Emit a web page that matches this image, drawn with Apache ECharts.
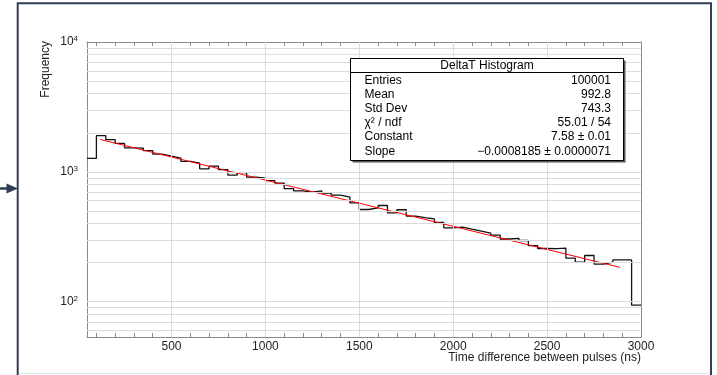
<!DOCTYPE html>
<html><head><meta charset="utf-8">
<script src="https://cdn.jsdelivr.net/npm/echarts@6/dist/echarts.min.js"></script>
<style>html,body{margin:0;padding:0;background:#fff}#c{width:717px;height:375px}</style>
</head><body><div id="c"></div>
<script>
// ---- data ----
const binStart = 50;
const binWidth = 50;
const counts = [1270,1901,1769,1656,1530,1525,1459,1370,1323,1277,
                1205,1166,1055,1108,1042,945,986,910,896,857,
                820,743,714,699,714,685,661,638,577,513,
                528,551,484,511,456,445,435,408,371,375,
                362,350,338,326,304,307,296,270,257,256,
                259,217,202,227,195,202,210,210,94];
const fitX = [121, 2887];
const fitY = [1775, 184];
const xLabelValues = [500, 1000, 1500, 2000, 2500, 3000];
const xMinorValues = [100,200,300,400,600,700,800,900,1100,1200,1300,1400,1600,1700,1800,1900,2100,2200,2300,2400,2600,2700,2800,2900];
const yLabelValues = [100, 1000, 10000];
const yMinorValues = [60,70,80,90,200,300,400,500,600,700,800,900,2000,3000,4000,5000,6000,7000,8000,9000];
const xGridValues = [500, 1000, 1500, 2000, 2500];
const yGridValues = [60,70,80,90,100,200,300,400,500,600,700,800,900,1000,2000,3000,4000,5000,6000,7000,8000,9000];
const statsTitle = 'DeltaT Histogram';
const statNames = ['Entries', 'Mean', 'Std Dev', 'χ² / ndf', 'Constant', 'Slope'];
const statValues = ['100001', '992.8', '743.3', '55.01 / 54', '7.58 ± 0.01', '−0.0008185 ± 0.0000071'];
const xTitle = 'Time difference between pulses (ns)';
const yTitle = 'Frequency';

// ---- build ----
const FONT = '"Liberation Sans", Arial, Helvetica, sans-serif';
const X_MIN = 50, X_MAX = 3000, Y_MIN = 53.5, Y_MAX = 10000;
const axisColor = '#8a8a8a';

const histData = counts.map((c, i) => [binStart + i * binWidth, c]);
histData.push([binStart + counts.length * binWidth, counts[counts.length - 1]]);
const fitData = fitX.map((x, i) => [x, fitY[i]]);

function xAx(extra) {
  return Object.assign({
    type: 'value', min: X_MIN, max: X_MAX, gridIndex: 0,
    splitLine: { show: false },
    axisLine: { show: false },
    axisTick: { show: false },
    axisLabel: { show: false }
  }, extra);
}
function yAx(extra) {
  return Object.assign({
    type: 'log', logBase: 10, min: Y_MIN, max: Y_MAX, gridIndex: 0,
    splitLine: { show: false },
    axisLine: { show: false },
    axisTick: { show: false },
    axisLabel: { show: false }
  }, extra);
}
const lineAx = { show: true, onZero: false, lineStyle: { color: axisColor, width: 1 } };

const option = {
  animation: false,
  backgroundColor: '#ffffff',
  grid: { left: 87, right: 76, top: 42, bottom: 38, containLabel: false, outerBoundsMode: 'none' },
  xAxis: [
    xAx({ position: 'bottom', axisLine: lineAx,
      axisTick: { show: true, inside: true, length: 8, customValues: xLabelValues, lineStyle: { color: axisColor } },
      axisLabel: { show: true, customValues: xLabelValues, margin: 4, fontSize: 12, color: '#222', fontFamily: FONT,
        formatter: function (v) { return String(Math.round(v)); } } }),
    xAx({ position: 'bottom',
      axisTick: { show: true, inside: true, length: 4, customValues: xMinorValues, lineStyle: { color: axisColor } } }),
    xAx({ position: 'top', axisLine: lineAx,
      axisTick: { show: true, inside: true, length: 4, customValues: xMinorValues.concat(xLabelValues), lineStyle: { color: axisColor } } })
  ],
  yAxis: [
    yAx({ position: 'left', axisLine: lineAx,
      axisTick: { show: true, inside: true, length: 17, customValues: yLabelValues, lineStyle: { color: axisColor } },
      axisLabel: { show: true, customValues: yLabelValues, margin: 9, color: '#222', fontFamily: FONT,
        showMinLabel: true, showMaxLabel: true,
        formatter: function (v) { return '{b|10}{s|' + Math.round(Math.log10(v)) + '}'; },
        rich: { b: { fontSize: 12, fontFamily: FONT, color: '#222', lineHeight: 14 },
                s: { fontSize: 8, fontFamily: FONT, color: '#222', verticalAlign: 'top', lineHeight: 8 } } } }),
    yAx({ position: 'left',
      axisTick: { show: true, inside: true, length: 9, customValues: yMinorValues, lineStyle: { color: axisColor } } }),
    yAx({ position: 'right', axisLine: lineAx,
      axisTick: { show: true, inside: true, length: 17, customValues: yLabelValues, lineStyle: { color: axisColor } } }),
    yAx({ position: 'right',
      axisTick: { show: true, inside: true, length: 9, customValues: yMinorValues, lineStyle: { color: axisColor } } })
  ],
  series: [
    { type: 'line', name: 'grid', data: [], silent: true, z: 1, xAxisIndex: 0, yAxisIndex: 0,
      markLine: { silent: true, symbol: 'none', label: { show: false }, animation: false,
        emphasis: { disabled: true },
        lineStyle: { color: '#dcdcdc', width: 1, type: 'solid' },
        data: xGridValues.map(v => ({ xAxis: v })).concat(yGridValues.map(v => ({ yAxis: v }))) } },
    { type: 'line', name: 'DeltaT', data: histData, step: 'end', showSymbol: false, symbol: 'none',
      xAxisIndex: 0, yAxisIndex: 0, z: 3,
      lineStyle: { color: '#111', width: 1.3 }, emphasis: { disabled: true } },
    { type: 'line', name: 'fit', data: fitData, showSymbol: false, symbol: 'none',
      xAxisIndex: 0, yAxisIndex: 0, z: 4,
      lineStyle: { color: '#ff0000', width: 1 }, emphasis: { disabled: true } }
  ],
  graphic: []
};

// frame and arrow
option.graphic.push(
  { type: 'rect', shape: { x: 17.7, y: 3.3, width: 693.3, height: 390 }, style: { fill: 'none', stroke: '#323e55', lineWidth: 2 }, silent: true, z: 10 },
  { type: 'line', shape: { x1: 19, y1: 373.5, x2: 710, y2: 373.5 }, style: { stroke: '#e2e6ec', lineWidth: 1 }, silent: true },
  { type: 'line', shape: { x1: 0, y1: 188.5, x2: 10, y2: 188.5 }, style: { stroke: '#323e55', lineWidth: 2.5 }, silent: true },
  { type: 'polygon', shape: { points: [[6.5, 183.5], [18, 188.5], [6.5, 193.5]] }, style: { fill: '#323e55' }, silent: true }
);
// axis titles
option.graphic.push(
  { type: 'text', x: 46, y: 41, rotation: Math.PI / 2, silent: true,
    style: { text: yTitle, font: '12px ' + FONT, fill: '#222', align: 'right', verticalAlign: 'middle' } },
  { type: 'text', x: 641, y: 358, silent: true,
    style: { text: xTitle, font: '12px ' + FONT, fill: '#222', align: 'right', verticalAlign: 'middle' } }
);
// stats box
const bx = 350.5, by = 58.5, bw = 273, bh = 102;
option.graphic.push(
  { type: 'rect', shape: { x: bx + 2, y: by + 2, width: bw, height: bh }, style: { fill: '#555' }, silent: true, z: 20 },
  { type: 'rect', shape: { x: bx, y: by, width: bw, height: bh }, style: { fill: '#fff', stroke: '#000', lineWidth: 1 }, silent: true, z: 21 },
  { type: 'line', shape: { x1: bx, y1: 72.5, x2: bx + bw, y2: 72.5 }, style: { stroke: '#000', lineWidth: 1 }, silent: true, z: 22 },
  { type: 'text', x: bx + bw / 2, y: 65.5, silent: true, z: 22,
    style: { text: statsTitle, font: '12px ' + FONT, fill: '#000', align: 'center', verticalAlign: 'middle' } }
);
statNames.forEach((n, i) => {
  const yy = 80.3 + i * 14.2;
  option.graphic.push(
    { type: 'text', x: 364.5, y: yy, silent: true, z: 22,
      style: { text: n, font: '12px ' + FONT, fill: '#000', align: 'left', verticalAlign: 'middle' } },
    { type: 'text', x: 611, y: yy, silent: true, z: 22,
      style: { text: statValues[i], font: '12px ' + FONT, fill: '#000', align: 'right', verticalAlign: 'middle' } }
  );
});

const chart = echarts.init(document.getElementById('c'), null, { renderer: 'canvas' });
chart.setOption(option);
</script></body></html>
